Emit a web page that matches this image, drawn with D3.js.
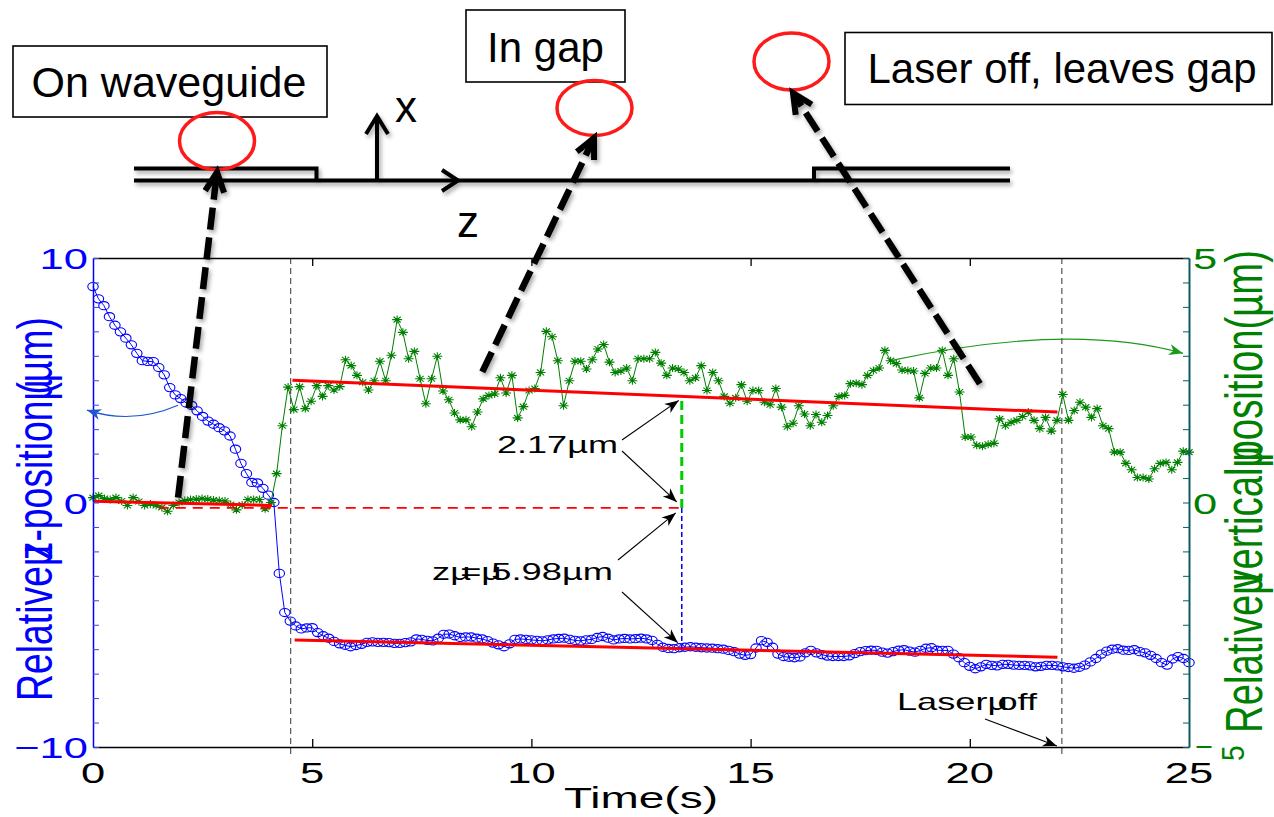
<!DOCTYPE html>
<html>
<head>
<meta charset="utf-8">
<script src="https://cdn.jsdelivr.net/npm/d3@7"></script>
<style>
  body { margin: 0; background: #fff; }
  svg { display: block; background: #fff; }
  text { font-family: "Liberation Sans", Arial, Helvetica, sans-serif; }
</style>
</head>
<body>
<svg id="fig" width="1274" height="817"></svg>
<script>
// ---------------- data ----------------
const timeRange = [0, 25];
const xTickValues = [0, 5, 10, 15, 20, 25];
const zAxisLabels = [-10, 0, 10];
const verticalAxisLabels = [5, 0];

// relative z-position (um), sampled every zTimeStep seconds
const zTimeStep = 0.125;
const zPosition = [
  8.83, 8.33, 8.05, 7.60, 7.25, 6.98, 6.72, 6.45, 6.10, 5.80,
  5.77, 5.76, 5.52, 5.22, 4.70, 4.40, 4.25, 4.07, 3.97, 3.75,
  3.52, 3.33, 3.20, 3.06, 2.93, 2.72, 2.18, 1.60, 1.18, 0.82,
  0.80, 0.58, 0.30, 0.00, -2.90, -4.50, -4.85, -5.05, -5.17, -5.13,
  -5.12, -5.32, -5.45, -5.55, -5.68, -5.78, -5.84, -5.90, -5.85, -5.80,
  -5.72, -5.70, -5.72, -5.72, -5.73, -5.76, -5.76, -5.73, -5.70, -5.58,
  -5.60, -5.64, -5.66, -5.55, -5.39, -5.38, -5.45, -5.52, -5.50, -5.50,
  -5.55, -5.58, -5.65, -5.75, -5.82, -5.90, -5.78, -5.60, -5.58, -5.60,
  -5.62, -5.64, -5.66, -5.62, -5.58, -5.56, -5.55, -5.60, -5.64, -5.66,
  -5.62, -5.60, -5.52, -5.48, -5.55, -5.62, -5.58, -5.56, -5.58, -5.57,
  -5.55, -5.58, -5.64, -5.80, -5.92, -5.97, -5.98, -5.94, -5.92, -5.90,
  -5.92, -5.94, -5.95, -5.96, -5.98, -6.00, -6.05, -6.10, -6.20, -6.25,
  -6.22, -5.95, -5.65, -5.72, -5.92, -6.20, -6.30, -6.33, -6.35, -6.32,
  -6.15, -6.05, -6.15, -6.22, -6.28, -6.30, -6.30, -6.30, -6.27, -6.18,
  -6.10, -6.06, -6.04, -6.05, -6.12, -6.16, -6.10, -6.04, -6.02, -6.08,
  -6.12, -6.05, -5.96, -5.94, -6.04, -6.05, -6.05, -6.20, -6.35, -6.55,
  -6.70, -6.80, -6.72, -6.62, -6.66, -6.68, -6.62, -6.62, -6.65, -6.66,
  -6.66, -6.68, -6.72, -6.70, -6.66, -6.66, -6.68, -6.72, -6.75, -6.78,
  -6.74, -6.65, -6.52, -6.38, -6.20, -6.08, -6.00, -5.98, -6.04, -6.05,
  -6.02, -6.10, -6.15, -6.25, -6.38, -6.55, -6.65, -6.40, -6.30, -6.38,
  -6.55
];

// relative vertical position (um), 192 frames over 25 s
const verticalTimeStep = 25 / 191;
const verticalPosition = [
  0.10, 0.14, 0.08, 0.06, 0.10, 0.03, -0.06, 0.10, 0.02, -0.06,
  -0.03, -0.06, -0.10, -0.18, -0.06, 0.00, 0.04, 0.06, 0.07, 0.08,
  0.07, 0.05, 0.04, 0.03, -0.04, -0.15, -0.05, 0.06, 0.06, 0.06,
  -0.13, 0.00,
  0.59, 1.57, 2.36, 1.90, 2.37, 1.92, 2.07, 2.39, 2.17, 2.39,
  2.30, 2.37, 2.92, 2.80, 2.60, 2.46, 2.30, 2.49, 2.89, 2.49,
  3.01, 3.74, 3.48, 2.94, 3.09, 2.53, 2.02, 2.53, 2.99, 2.28,
  2.10, 1.83, 1.69, 1.69, 1.55, 1.85, 2.12, 2.19, 2.22, 2.55,
  2.24, 2.60, 1.73, 1.96, 2.29, 2.33, 2.66, 3.50, 3.39, 2.90,
  1.98, 2.49, 2.89, 2.89, 2.73, 2.92, 3.14, 3.23, 2.87, 2.66,
  2.69, 2.75, 2.49, 2.94, 2.94, 2.94, 3.07, 2.85, 2.60, 2.75,
  2.73, 2.66, 2.49, 2.55, 2.80, 2.29,
  2.66, 2.49, 2.17, 2.03, 2.14, 2.41, 2.07, 2.29, 2.29, 2.05,
  2.00, 2.33, 1.95, 1.55, 1.62, 1.98, 1.81, 1.57, 1.80, 1.64,
  1.78, 1.98, 2.17, 2.19, 2.43, 2.44, 2.41, 2.60, 2.70, 2.75,
  3.11, 2.90, 2.84, 2.71, 2.70, 2.69, 2.14, 2.64, 2.75, 2.75,
  3.11, 2.60, 2.94, 2.26, 1.34, 1.34, 1.17, 1.15, 1.19, 1.21,
  1.71, 1.57, 1.64, 1.68, 1.76, 1.85, 1.68, 1.51, 1.74, 1.46,
  1.68, 2.21, 1.68, 1.88, 2.05, 1.95, 1.74, 1.92, 1.57, 1.51,
  1.03, 1.03, 0.80, 0.67, 0.51, 0.51, 0.48, 0.69, 0.80, 0.82,
  0.67, 0.82, 1.05, 1.03
];

// linear fits [[t0, v0], [t1, v1]]
const fitBefore = [[0, 0.05], [4.08, -0.12]];        // z axis units
const fitZ = [[4.6, -5.62], [22.0, -6.33]];          // z axis units
const fitVertical = [[4.55, 2.50], [22.0, 1.85]];    // vertical axis units

// event times and measured displacement
const eventTimes = [4.51, 22.1];
const measureTime = 13.43;
const baselineStart = 1.5;
const baselineLevel = -0.22;        // z axis units
const zShift = 5.98;
const verticalShift = 2.17;

// ---------------- setup ----------------
const svg = d3.select("#fig");
const defs = svg.append("defs");
const shadow = defs.append("filter").attr("id", "shadow")
  .attr("x", "-20%").attr("y", "-20%").attr("width", "140%").attr("height", "140%");
shadow.append("feDropShadow").attr("dx", 2).attr("dy", 3).attr("stdDeviation", 2)
  .attr("flood-color", "#000").attr("flood-opacity", 0.35);

function headMarker(id, color) {
  defs.append("marker").attr("id", id)
    .attr("viewBox", "-15 -7 17 14").attr("refX", 0).attr("refY", 0)
    .attr("markerWidth", 17).attr("markerHeight", 14)
    .attr("markerUnits", "userSpaceOnUse").attr("orient", "auto")
    .append("path").attr("d", "M0,0 L-14,-5.5 L-10,0 L-14,5.5Z").attr("fill", color);
}
headMarker("headBlack", "#000");
headMarker("headBlue", "#1f55d0");
headMarker("headGreen", "#1a9a1a");

const x = d3.scaleLinear().domain(timeRange).range([93, 1189]);
const yL = d3.scaleLinear().domain([-10, 10]).range([747, 258]);
const yR = d3.scaleLinear().domain([-5, 5]).range([747, 258]);

const BLUE = "#0000ff", GREEN = "#008000", RED = "#ff0000", TEAL = "#0d5c63";

// text where each "|" becomes a micro sign that the following word partly overprints
function label(parent, o) {
  const t = parent.append("text")
    .attr("font-size", o.size).attr("fill", o.fill || "#000");
  o.str.split("|").forEach((p, i) => {
    if (i > 0) t.append("tspan").text("\u00b5");
    const s = t.append("tspan").text(p);
    if (i > 0) s.attr("dx", `${-(o.overlap || 0.42)}em`);
  });
  const bb = t.node().getBBox();
  const sx = o.length ? o.length / bb.width : (o.sx || 1);
  let ox = -bb.x;
  if (o.anchor === "middle") ox -= bb.width / 2;
  if (o.anchor === "end") ox -= bb.width;
  t.attr("x", ox);
  t.attr("transform", `translate(${o.x},${o.y}) rotate(${o.rotate || 0}) scale(${sx},${o.sy || 1})`);
  return t;
}

// ---------------- chart ----------------
const chart = svg.append("g");

// event markers
chart.selectAll(".event").data(eventTimes).join("line")
  .attr("x1", d => x(d)).attr("x2", d => x(d))
  .attr("y1", yL(10)).attr("y2", yL(-10) + 10)
  .attr("stroke", "#333").attr("stroke-width", 1).attr("stroke-dasharray", "6,4");

// z-position series
const zPts = zPosition.map((v, i) => ({ t: i * zTimeStep, v }));
chart.append("path").datum(zPts)
  .attr("d", d3.line().x(d => x(d.t)).y(d => yL(d.v)))
  .attr("fill", "none").attr("stroke", BLUE).attr("stroke-width", 1);
chart.selectAll(".zc").data(zPts).join("ellipse")
  .attr("cx", d => x(d.t)).attr("cy", d => yL(d.v))
  .attr("rx", 5.2).attr("ry", 4.1)
  .attr("fill", "none").attr("stroke", BLUE).attr("stroke-width", 1.1);

// vertical-position series
const vPts = verticalPosition.map((v, i) => ({ t: i * verticalTimeStep, v }));
chart.append("path").datum(vPts)
  .attr("d", d3.line().x(d => x(d.t)).y(d => yR(d.v)))
  .attr("fill", "none").attr("stroke", GREEN).attr("stroke-width", 1);
const star = "M-5,0H5M0,-4V4M-3.6,-2.9L3.6,2.9M-3.6,2.9L3.6,-2.9";
chart.selectAll(".vs").data(vPts).join("path")
  .attr("d", star)
  .attr("transform", d => `translate(${x(d.t)},${yR(d.v)})`)
  .attr("fill", "none").attr("stroke", GREEN).attr("stroke-width", 1.1);

// fits
const fitLine = (pts, y) => chart.append("line")
  .attr("x1", x(pts[0][0])).attr("y1", y(pts[0][1]))
  .attr("x2", x(pts[1][0])).attr("y2", y(pts[1][1]))
  .attr("stroke", RED).attr("stroke-width", 3);
fitLine(fitBefore, yL);
fitLine(fitZ, yL);
fitLine(fitVertical, yR);

// displacement construction
chart.append("line")
  .attr("x1", x(baselineStart)).attr("x2", x(measureTime))
  .attr("y1", yL(baselineLevel)).attr("y2", yL(baselineLevel))
  .attr("stroke", RED).attr("stroke-width", 1.8).attr("stroke-dasharray", "10,7");
chart.append("line")
  .attr("x1", x(measureTime)).attr("x2", x(measureTime))
  .attr("y1", yL(baselineLevel)).attr("y2", yR(verticalShift))
  .attr("stroke", "#00cc00").attr("stroke-width", 3).attr("stroke-dasharray", "9,5");
chart.append("line")
  .attr("x1", x(measureTime)).attr("x2", x(measureTime))
  .attr("y1", yL(baselineLevel)).attr("y2", yL(-zShift))
  .attr("stroke", BLUE).attr("stroke-width", 1.5).attr("stroke-dasharray", "5,3");

// axes frame
const axes = svg.append("g");
axes.append("g").attr("transform", `translate(0,${yL(-10)})`)
  .call(d3.axisTop(x).tickValues([5, 10, 15, 20]).tickSize(8).tickSizeOuter(0).tickFormat(""))
  .call(g => g.selectAll("path,line").attr("stroke", "#000").attr("stroke-width", 1.3));
axes.append("g").attr("transform", `translate(0,${yL(10)})`)
  .call(d3.axisBottom(x).tickValues([5, 10, 15, 20]).tickSize(8).tickSizeOuter(0).tickFormat(""))
  .call(g => g.selectAll("path,line").attr("stroke", "#000").attr("stroke-width", 1.3));
axes.append("g").attr("transform", `translate(${x(0)},0)`)
  .call(d3.axisRight(yL).tickValues(d3.range(-10, 11, 1)).tickSize(6).tickSizeOuter(0).tickFormat(""))
  .call(g => g.select("path").attr("stroke", BLUE).attr("stroke-width", 1.5))
  .call(g => g.selectAll("line").attr("stroke", "#3344ee").attr("stroke-width", 1));
axes.append("g").attr("transform", `translate(${x(25)},0)`)
  .call(d3.axisLeft(yR).tickValues(d3.range(-5, 5.01, 0.5)).tickSize(6).tickSizeOuter(0).tickFormat(""))
  .call(g => g.select("path").attr("stroke", TEAL).attr("stroke-width", 2))
  .call(g => g.selectAll("line").attr("stroke", TEAL).attr("stroke-width", 1));

// tick labels
const SX = 1.45;
const signed = v => (v < 0 ? "\u2212" + Math.abs(v) : String(v));
xTickValues.forEach(t => label(axes, { str: String(t), x: x(t), y: 783, size: 30, anchor: "middle", sx: SX }));
zAxisLabels.forEach(v => label(axes, {
  str: signed(v), x: 88, y: yL(v) + 11, size: 30, anchor: "end", sx: SX, fill: BLUE
}));
verticalAxisLabels.forEach(v => label(axes, {
  str: String(v), x: x(25) + 4, y: yR(v) + 11, size: 30, sx: SX, fill: GREEN
}));
// bottom right label: minus sign with the digit turned along the axis title
label(axes, { str: "\u2212", x: x(25) + 6, y: yR(-5) + 9, size: 28, sx: 1.1, fill: GREEN });
label(axes, { str: "5", x: x(25) + 55, y: yR(-5) + 14, size: 28, rotate: -90, sy: 1.1, fill: GREEN });

// axis titles
label(axes, { str: "Time(s)", x: 641, y: 808, size: 29, anchor: "middle", length: 154 });
label(axes, { str: "Relative|z-position|(\u00b5m)", x: 52, y: 701, size: 36, rotate: -90, length: 384, sy: 1.38, fill: BLUE });
label(axes, { str: "Relative|vertical|position(\u00b5m)", x: 1262, y: 733, size: 36, rotate: -90, length: 483, sy: 1.42, fill: GREEN });

// annotations
const ann = svg.append("g");
const thinArrow = (a, b, marker, color) => ann.append("line")
  .attr("x1", a[0]).attr("y1", a[1]).attr("x2", b[0]).attr("y2", b[1])
  .attr("stroke", color || "#000").attr("stroke-width", 1.1)
  .attr("marker-end", `url(#${marker || "headBlack"})`);

const mx = x(measureTime);
label(ann, { str: "2.17\u00b5m", x: 497, y: 453, size: 23, length: 121 });
thinArrow([622, 440], [mx - 3, yR(verticalShift) + 4]);
thinArrow([622, 451], [mx - 5, yL(baselineLevel) - 6]);
label(ann, { str: "z|=|5.98\u00b5m", x: 432, y: 580, size: 24, length: 181, overlap: 0.3 });
thinArrow([618, 560], [mx - 6, yL(baselineLevel) + 5]);
thinArrow([622, 592], [mx - 4, yL(-zShift) - 6]);
label(ann, { str: "Laser|off", x: 897, y: 710, size: 23, length: 141, overlap: 0.3 });
thinArrow([985, 719], [x(eventTimes[1]) - 5, yL(-10) - 1]);

// arcs pointing each series to its axis
ann.append("path").attr("d", `M${x(1.94)},${yL(3.98)} Q132,425 ${x(0) - 6},${yL(3.78)}`)
  .attr("fill", "none").attr("stroke", "#1f55d0").attr("stroke-width", 1.2)
  .attr("marker-end", "url(#headBlue)");
ann.append("path").attr("d", `M${x(18.25)},${yR(2.91)} Q1070,322 ${x(25) - 6},${yR(3.05)}`)
  .attr("fill", "none").attr("stroke", "#1a9a1a").attr("stroke-width", 1.2)
  .attr("marker-end", "url(#headGreen)");

// ---------------- schematic ----------------
const diagram = {
  guideY: 180.5, railY: 168.5, start: 134, end: 1010,
  leftRailEnd: 316.5, rightRailStart: 814,
  axisX: 377, axisTop: 116, zTip: 458
};
const boxes = [
  { text: "On waveguide", x: 13, y: 46, w: 314, h: 71, tx: 169, ty: 97, size: 43 },
  { text: "In gap", x: 466, y: 10, w: 159, h: 72, tx: 545.5, ty: 62, size: 42 },
  { text: "Laser off, leaves gap", x: 845, y: 32.5, w: 427, h: 72, tx: 1062, ty: 83, size: 42 }
];
const particles = [
  { cx: 217, cy: 141, rx: 37.5, ry: 28.5 },
  { cx: 594.5, cy: 108, rx: 37.5, ry: 27.5 },
  { cx: 791.5, cy: 61.5, rx: 37.5, ry: 28.5 }
];

const sch = svg.append("g");
const guides = sch.append("g").attr("filter", "url(#shadow)")
  .attr("fill", "none").attr("stroke", "#000").attr("stroke-width", 4);
const D = diagram;
guides.append("path").attr("d", `M${D.start},${D.guideY}H${D.end}`);
guides.append("path").attr("d", `M${D.start},${D.railY}H${D.leftRailEnd}V${D.guideY}`);
guides.append("path").attr("d", `M${D.end},${D.railY}H${D.rightRailStart}V${D.guideY}`);
guides.append("path").attr("d", `M${D.axisX},${D.guideY}V${D.axisTop}`);
guides.append("path").attr("d", `M${D.axisX - 11},${D.axisTop + 18}L${D.axisX},${D.axisTop}L${D.axisX + 11},${D.axisTop + 18}`)
  .attr("stroke-linejoin", "miter");
guides.append("path").attr("d", `M${D.zTip - 16},${D.guideY - 10.5}L${D.zTip},${D.guideY}L${D.zTip - 16},${D.guideY + 10.5}`);
sch.append("text").attr("x", 406).attr("y", 122).attr("font-size", 44).attr("text-anchor", "middle").text("x");
sch.append("text").attr("x", 468).attr("y", 237).attr("font-size", 44).attr("text-anchor", "middle").text("z");

boxes.forEach(b => {
  sch.append("rect").attr("x", b.x).attr("y", b.y).attr("width", b.w).attr("height", b.h)
    .attr("fill", "#fff").attr("stroke", "#000").attr("stroke-width", 1.6);
  sch.append("text").attr("x", b.tx).attr("y", b.ty).attr("font-size", b.size)
    .attr("text-anchor", "middle").text(b.text);
});
sch.selectAll(".particle").data(particles).join("ellipse")
  .attr("cx", d => d.cx).attr("cy", d => d.cy).attr("rx", d => d.rx).attr("ry", d => d.ry)
  .attr("fill", "none").attr("stroke", "#ff1a1a").attr("stroke-width", 3.5);

// thick dashed arrows linking trace segments to particle positions
const big = svg.append("g").attr("filter", "url(#shadow)");
function bigArrow(tail, tip) {
  const dx = tip[0] - tail[0], dy = tip[1] - tail[1], L = Math.hypot(dx, dy);
  const ux = dx / L, uy = dy / L;
  big.append("line")
    .attr("x1", tail[0]).attr("y1", tail[1])
    .attr("x2", tip[0] - ux * 4).attr("y2", tip[1] - uy * 4)
    .attr("stroke", "#000").attr("stroke-width", 6.5).attr("stroke-dasharray", "22,8");
  const a = Math.PI / 7, len = 22;
  const arm = s => {
    const c = Math.cos(s * a), sn = Math.sin(s * a);
    const bx = -ux, by = -uy;
    return [tip[0] + len * (bx * c - by * sn), tip[1] + len * (bx * sn + by * c)];
  };
  const p1 = arm(1), p2 = arm(-1);
  big.append("path").attr("d", `M${p1[0]},${p1[1]}L${tip[0]},${tip[1]}L${p2[0]},${p2[1]}`)
    .attr("fill", "none").attr("stroke", "#000").attr("stroke-width", 6);
}
bigArrow([x(1.94), yL(0.2)], [217, 172]);
bigArrow([x(8.88), yR(2.67)], [594, 138]);
bigArrow([x(20.23), yR(2.43)], [793, 93]);
</script>
</body>
</html>
